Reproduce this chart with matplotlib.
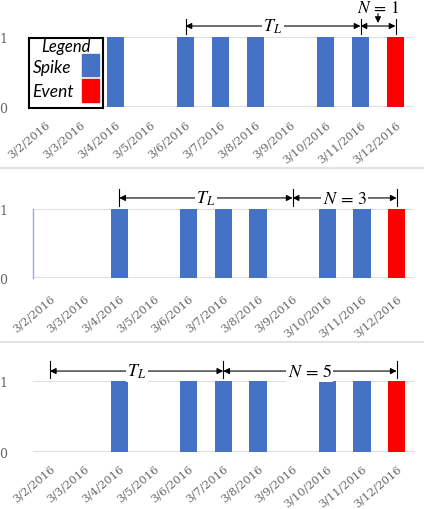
import numpy as np
import matplotlib.pyplot as plt
from matplotlib.lines import Line2D
from matplotlib.patches import Rectangle
import matplotlib.transforms as mtransforms

plt.rcParams['mathtext.fontset'] = 'stix'

dates = ['3/2/2016', '3/3/2016', '3/4/2016', '3/5/2016', '3/6/2016', '3/7/2016',
         '3/8/2016', '3/9/2016', '3/10/2016', '3/11/2016', '3/12/2016']
spikes = [0, 0, 1, 0, 1, 1, 1, 0, 1, 1, 0]
events = [0, 0, 0, 0, 0, 0, 0, 0, 0, 0, 1]

# per panel: start of T_L window, end of T_L window, event position, N
tl_start = [4, 2, 0]
tl_end = [9, 7, 5]
event_pos = [10, 10, 10]
n_values = [1, 3, 5]

BLUE = '#4472C4'
RED = '#FF0000'
GRID = '#D9D9D9'
TXT = '#666666'

W, H = 424, 510
fig = plt.figure(figsize=(W / 100, H / 100), dpi=100)


def px_axes(left, top, right, bottom):
    return fig.add_axes([left / W, 1 - bottom / H, (right - left) / W, (bottom - top) / H])


# pixel boxes of the three plot areas
boxes = [(28, 38, 413, 108), (32.5, 210, 414, 279), (32.5, 382, 414, 453)]
line_y = [1.157, 1.16, 1.14]
tick_top = [1.257, 1.29, 1.28]
xpad = [8.6, 11.0, 8.0]

x = np.arange(len(dates))
for k, box in enumerate(boxes):
    ax = px_axes(*box)
    ax.bar(x, spikes, width=0.5, color=BLUE, zorder=3)
    ax.bar(x, events, width=0.5, color=RED, zorder=3)
    ax.set_xlim(-0.5, len(dates) - 0.5)
    ax.set_ylim(0, 1)
    ax.set_yticks([0, 1])
    ax.set_xticks(x)
    ax.set_xticklabels(dates, rotation=40, ha='right', rotation_mode='anchor',
                       va='top', fontsize=8.2, family='DejaVu Serif', color=TXT)
    ax.tick_params(axis='x', length=0, pad=xpad[k])
    ax.tick_params(axis='y', length=0, pad=15 if k == 0 else 18, labelsize=9,
                   labelcolor=TXT)
    for lab in ax.get_yticklabels():
        lab.set_family('DejaVu Serif')
    ax.yaxis.grid(True, color=GRID, lw=1.2, zorder=0)
    for s in ax.spines.values():
        s.set_visible(False)
    if k == 1:
        ax.spines['left'].set_visible(True)
        ax.spines['left'].set_color('#8FAADC')
        ax.spines['left'].set_linewidth(1.0)

    trans = mtransforms.blended_transform_factory(ax.transData, ax.transAxes)
    y = line_y[k]
    arrow = dict(arrowstyle='<|-|>', color='black', lw=0.8, mutation_scale=9,
                 shrinkA=0, shrinkB=0)
    ax.annotate('', xy=(tl_end[k], y), xytext=(tl_start[k], y),
                xycoords=trans, textcoords=trans, arrowprops=arrow,
                annotation_clip=False)
    ax.annotate('', xy=(event_pos[k], y), xytext=(tl_end[k], y),
                xycoords=trans, textcoords=trans, arrowprops=arrow,
                annotation_clip=False)
    for xv in (tl_start[k], tl_end[k], event_pos[k]):
        ax.plot([xv, xv], [1.04, tick_top[k]], color='black', lw=0.8,
                transform=trans, clip_on=False)
    ax.text((tl_start[k] + tl_end[k]) / 2, y, '$T_L$', transform=trans,
            ha='center', va='center', fontsize=13,
            bbox=dict(fc='white', ec='none', pad=1), zorder=5)
    n_text = f'$N\\,=\\,{n_values[k]}$'
    if k == 0:
        xm = (tl_end[k] + event_pos[k]) / 2
        ax.text(xm, 1.36, n_text, transform=trans, ha='center', va='baseline',
                fontsize=12.5)
        ax.annotate('', xy=(xm, 1.20), xytext=(xm, 1.335), xycoords=trans,
                    textcoords=trans, annotation_clip=False,
                    arrowprops=dict(arrowstyle='-|>', color='black', lw=0.8,
                                    mutation_scale=9, shrinkA=0, shrinkB=0))
    else:
        ax.text((tl_end[k] + event_pos[k]) / 2, y, n_text, transform=trans,
                ha='center', va='center', fontsize=13,
                bbox=dict(fc='white', ec='none', pad=1), zorder=5)

# legend box in the first panel
lg = px_axes(29, 39, 103, 109)
lg.set_xlim(0, 74)
lg.set_ylim(70, 0)
lg.set_xticks([])
lg.set_yticks([])
for s in lg.spines.values():
    s.set_color('black')
    s.set_linewidth(1.5)
lg.text(37, 8.5, 'Legend', ha='center', va='center', fontsize=12,
        style='italic', family='Lato')
lg.text(3.5, 29, 'Spike', ha='left', va='center', fontsize=12.5,
        style='italic', family='Lato')
lg.text(3.5, 53, 'Event', ha='left', va='center', fontsize=12.5,
        style='italic', family='Lato')
lg.add_patch(Rectangle((52.7, 16), 17.3, 22, color=BLUE))
lg.add_patch(Rectangle((52.7, 41), 17.3, 23, color=RED))

# light separators between panels
for yp in (169, 343):
    fig.add_artist(Line2D([0, 1], [1 - yp / H, 1 - yp / H], color='#E3E3E3',
                          lw=1.5, transform=fig.transFigure))

fig.savefig('out.png', dpi=100)
